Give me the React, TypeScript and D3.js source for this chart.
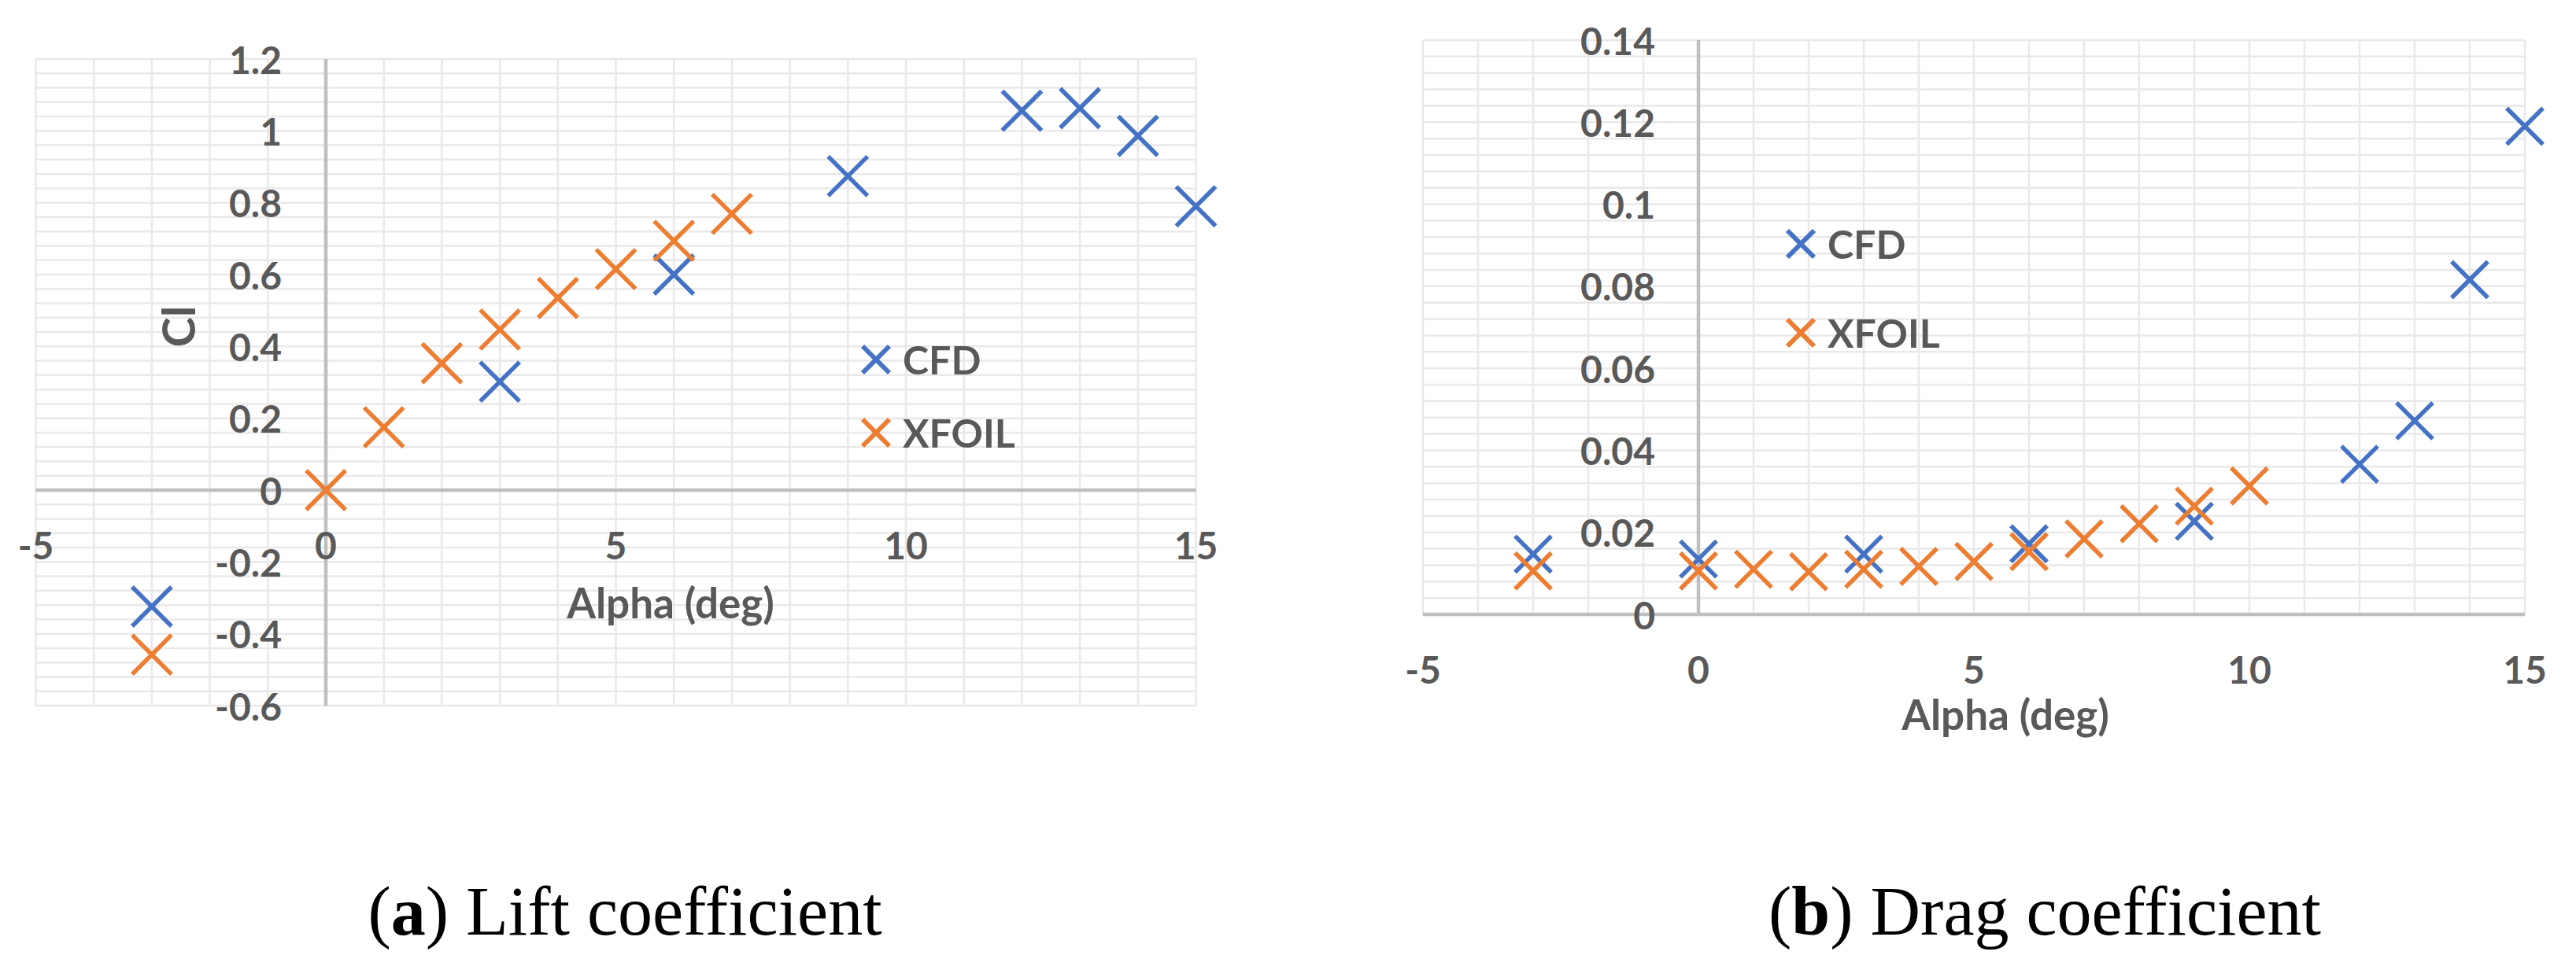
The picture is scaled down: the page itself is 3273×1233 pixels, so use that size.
import React from "react";
import * as d3 from "d3";

// Lift coefficient (a)
const clCfdAlpha = [-3, 3, 6, 9, 12, 13, 14, 15];
const clCfdValues = [-0.324, 0.302, 0.6, 0.874, 1.056, 1.063, 0.986, 0.79];
const clXfoilAlpha = [-3, 0, 1, 2, 3, 4, 5, 6, 7];
const clXfoilValues = [-0.458, 0, 0.175, 0.353, 0.447, 0.535, 0.615, 0.694, 0.769];

// Drag coefficient (b)
const cdCfdAlpha = [-3, 0, 3, 6, 9, 12, 13, 14, 15];
const cdCfdValues = [0.0147, 0.0135, 0.0147, 0.0172, 0.0227, 0.0366, 0.0472, 0.0816, 0.119];
const cdXfoilAlpha = [-3, 0, 1, 2, 3, 4, 5, 6, 7, 8, 9, 10];
const cdXfoilValues = [0.0106, 0.0106, 0.011, 0.0104, 0.011, 0.0117, 0.0129, 0.0153, 0.0184, 0.0221, 0.0264, 0.0313];

const xTicks = [-5, 0, 5, 10, 15];
const clTicks = [-0.6, -0.4, -0.2, 0, 0.2, 0.4, 0.6, 0.8, 1, 1.2];
const cdTicks = [0, 0.02, 0.04, 0.06, 0.08, 0.1, 0.12, 0.14];

const seriesNames = ["CFD", "XFOIL"];
const colors = ["#4472c4", "#ed7d31"];

const FONT = "Lato, 'Open Sans', sans-serif";
const TXT = "#595959";
const SERIF = "'Liberation Serif', 'Times New Roman', serif";

function cross(cx: number, cy: number, h: number) {
  const p = d3.path();
  p.moveTo(cx - h, cy - h);
  p.lineTo(cx + h, cy + h);
  p.moveTo(cx - h, cy + h);
  p.lineTo(cx + h, cy - h);
  return p.toString();
}

type PanelProps = {
  x: d3.ScaleLinear<number, number>;
  y: d3.ScaleLinear<number, number>;
  yTicks: number[];
  yMinor: number;
  series: { alpha: number[]; values: number[] }[];
  yLabelRight: number;
  xLabelDy: number;
  alphaLabel: [number, number];
  yTitle?: [number, number];
  legend: [number, number, number];
  marker: number;
};

function Panel(p: PanelProps) {
  const { x, y } = p;
  const [x0, x1] = x.domain();
  const [y0, y1] = y.domain();
  const vLines = d3.range(x0, x1 + 0.001, 1);
  const nh = Math.round((y1 - y0) / p.yMinor);
  const hLines = d3.range(0, nh + 1).map((i) => y0 + i * p.yMinor);
  const fmt = (v: number) => String(+v.toFixed(3));
  return (
    <g>
      {/* gridlines */}
      {hLines.map((v, i) => (
        <line key={"h" + i} x1={x(x0)} x2={x(x1)} y1={y(v)} y2={y(v)} stroke="#e9e9e9" strokeWidth={2.5} />
      ))}
      {vLines.map((v, i) => (
        <line key={"v" + i} x1={x(v)} x2={x(v)} y1={y(y0)} y2={y(y1)} stroke="#e9e9e9" strokeWidth={2.5} />
      ))}
      {/* axes crossing at zero */}
      <line x1={x(x0)} x2={x(x1)} y1={y(0)} y2={y(0)} stroke="#bfbfbf" strokeWidth={4.5} />
      <line x1={x(0)} x2={x(0)} y1={y(y0)} y2={y(y1)} stroke="#bfbfbf" strokeWidth={4.5} />
      {/* tick labels */}
      {p.yTicks.map((v) => (
        <text key={"yt" + v} x={p.yLabelRight} y={y(v)} textAnchor="end" dominantBaseline="central"
          fontFamily={FONT} fontWeight={700} fontSize={48} fill={TXT}>{fmt(v)}</text>
      ))}
      {xTicks.map((v) => (
        <text key={"xt" + v} x={x(v)} y={y(0) + p.xLabelDy} textAnchor="middle" dominantBaseline="central"
          fontFamily={FONT} fontWeight={700} fontSize={48} fill={TXT}>{v}</text>
      ))}
      <text x={p.alphaLabel[0]} y={p.alphaLabel[1]} textAnchor="middle" dominantBaseline="central"
        fontFamily={FONT} fontWeight={700} fontSize={53} fill={TXT}>Alpha (deg)</text>
      {p.yTitle && (
        <text transform={`translate(${p.yTitle[0]},${p.yTitle[1]}) rotate(-90)`} textAnchor="middle"
          dominantBaseline="central" fontFamily={FONT} fontWeight={700} fontSize={58} fill={TXT}>Cl</text>
      )}
      {/* points */}
      {p.series.map((s, si) => (
        <g key={"s" + si}>
          {s.alpha.map((a, i) => (
            <path key={i} d={cross(x(a), y(s.values[i]), p.marker)} stroke={colors[si]} strokeWidth={5.5} fill="none" />
          ))}
        </g>
      ))}
      {/* legend */}
      {seriesNames.map((n, i) => {
        const ly = p.legend[1] + i * p.legend[2];
        return (
          <g key={n}>
            <path d={cross(p.legend[0], ly, 17)} stroke={colors[i]} strokeWidth={6} fill="none" />
            <text x={p.legend[0] + 34} y={ly} dominantBaseline="central" fontFamily={FONT} fontWeight={700}
              fontSize={50} fill={TXT}>{n}</text>
          </g>
        );
      })}
    </g>
  );
}

export default function App() {
  const W = 3273;
  const H = 1233;

  const xA = d3.scaleLinear().domain([-5, 15]).range([45.5, 1519.5]);
  const yA = d3.scaleLinear().domain([-0.6, 1.2]).range([897, 75]);
  const xB = d3.scaleLinear().domain([-5, 15]).range([1808, 3208]);
  const yB = d3.scaleLinear().domain([0, 0.14]).range([781, 51]);

  return (
    <div style={{ position: "absolute", left: 0, top: 0 }}>
      <svg width={W} height={H} style={{ display: "block", background: "#fff" }}>
        <Panel
          x={xA}
          y={yA}
          yTicks={clTicks}
          yMinor={0.04}
          series={[
            { alpha: clCfdAlpha, values: clCfdValues },
            { alpha: clXfoilAlpha, values: clXfoilValues },
          ]}
          yLabelRight={358}
          xLabelDy={69}
          alphaLabel={[852, 765]}
          yTitle={[225, 415]}
          legend={[1113, 457, 93]}
          marker={25}
        />
        <Panel
          x={xB}
          y={yB}
          yTicks={cdTicks}
          yMinor={0.004}
          series={[
            { alpha: cdCfdAlpha, values: cdCfdValues },
            { alpha: cdXfoilAlpha, values: cdXfoilValues },
          ]}
          yLabelRight={2103}
          xLabelDy={69}
          alphaLabel={[2548, 907]}
          legend={[2288, 310, 113]}
          marker={23}
        />
        <text x={794} y={1188} textAnchor="middle" fontFamily={SERIF} fontSize={88} fill="#000">
          (<tspan fontWeight={700}>a</tspan>) Lift coefficient
        </text>
        <text x={2598} y={1188} textAnchor="middle" fontFamily={SERIF} fontSize={88} fill="#000">
          (<tspan fontWeight={700}>b</tspan>) Drag coefficient
        </text>
      </svg>
    </div>
  );
}
